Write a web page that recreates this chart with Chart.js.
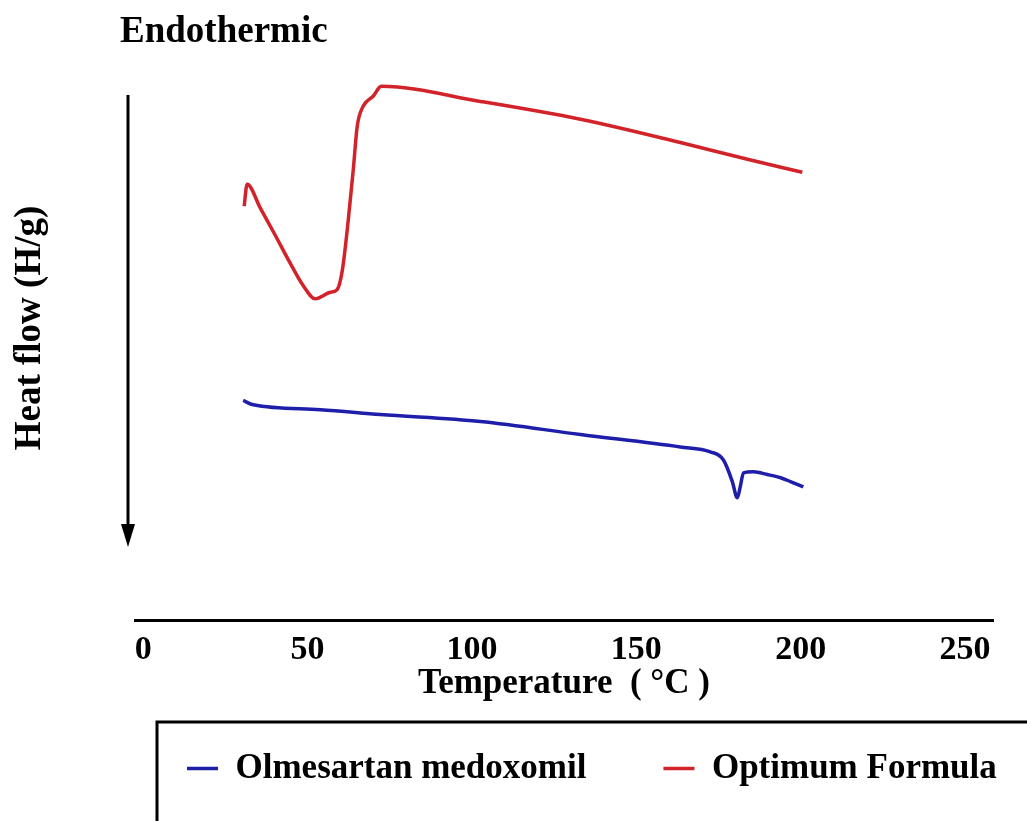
<!DOCTYPE html>
<html>
<head>
<meta charset="utf-8">
<script src="https://cdn.jsdelivr.net/npm/chart.js@4.4.1/dist/chart.umd.min.js"></script>
<style>
  body { margin: 0; background: #fff; }
  #wrap { width: 1027px; height: 821px; }
</style>
</head>
<body>
<div id="wrap"><canvas id="dsc"></canvas></div>
<script>
// DSC thermograms (heat flow in arbitrary units, endothermic = down)
const tempTicks = [0, 50, 100, 150, 200, 250];

const olmTemp = [30.4, 33.5, 53.9, 72.1, 102.6, 133.0, 163.4, 172.5, 176.5, 179.2, 180.7, 181.6, 182.6, 185.6, 189.9, 193.9, 196.9, 200.8];
const olmHeat = [4.06, 3.98, 3.89, 3.80, 3.67, 3.43, 3.20, 3.11, 2.96, 2.56, 2.26, 2.46, 2.72, 2.74, 2.69, 2.63, 2.56, 2.46];

const optTemp = [30.7, 31.6, 35.6, 40.2, 44.7, 48.7, 52.3, 56.9, 59.0, 60.6, 62.4, 63.9, 65.1, 66.9, 70.0, 72.4, 102.6, 133.0, 163.4, 183.8, 200.5];
const optHeat = [7.65, 8.06, 7.62, 7.11, 6.60, 6.18, 5.94, 6.06, 6.11, 6.48, 7.41, 8.33, 9.13, 9.50, 9.69, 9.87, 9.59, 9.26, 8.83, 8.52, 8.28];

const serif = '"Liberation Serif", "Times New Roman", serif';

const toXY = (xs, ys) => xs.map((x, i) => ({ x: x, y: ys[i] }));

// extra bits: "Endothermic", the arrow, the legend frame
const decor = {
  id: 'decor',
  afterLayout(chart) {
    // move the legend into place; wide right edge keeps both entries on one row
    const lg = chart.legend;
    lg.left = 110;
    lg.right = 1300;
    lg.top = 674;
  },
  afterDraw(chart) {
    const ctx = chart.ctx;
    ctx.save();
    ctx.fillStyle = '#000';
    ctx.strokeStyle = '#000';
    ctx.font = 'bold 37px ' + serif;
    ctx.textBaseline = 'middle';
    ctx.textAlign = 'left';
    ctx.fillText('Endothermic', 120, 32);

    ctx.lineWidth = 3;
    ctx.beginPath();
    ctx.moveTo(128, 95);
    ctx.lineTo(128, 528);
    ctx.stroke();
    ctx.beginPath();
    ctx.moveTo(121, 524);
    ctx.lineTo(135, 524);
    ctx.lineTo(128, 547);
    ctx.closePath();
    ctx.fill();

    const lg = chart.legend;
    ctx.lineWidth = 3;
    ctx.strokeRect(lg.left + 47, lg.top + 48, 950, 200);
    ctx.restore();
  }
};

new Chart(document.getElementById('dsc'), {
  type: 'line',
  data: {
    datasets: [
      {
        label: 'Olmesartan medoxomil',
        data: toXY(olmTemp, olmHeat),
        borderColor: '#1e1eaa',
        backgroundColor: '#1e1eaa',
        borderWidth: 3.5,
        pointRadius: 0,
        cubicInterpolationMode: 'monotone'
      },
      {
        label: 'Optimum Formula',
        data: toXY(optTemp, optHeat),
        borderColor: '#d2232a',
        backgroundColor: '#d2232a',
        borderWidth: 3.5,
        pointRadius: 0,
        cubicInterpolationMode: 'monotone'
      }
    ]
  },
  options: {
    responsive: true,
    maintainAspectRatio: false,
    animation: false,
    devicePixelRatio: 1,
    layout: { padding: { top: 36, right: 34, left: 0, bottom: 0 } },
    scales: {
      x: {
        type: 'linear',
        min: -2.5,
        max: 258.5,
        afterBuildTicks: (scale) => { scale.ticks = tempTicks.map(v => ({ value: v })); },
        afterFit: (scale) => { scale.height = 85; },
        grid: { display: false },
        border: { display: true, color: '#000', width: 3 },
        ticks: { color: '#000', padding: 2, font: { family: serif, size: 34, weight: 'bold' } },
        title: {
          display: true,
          text: 'Temperature  ( °C )',
          color: '#000',
          padding: { top: 0, bottom: 0 },
          font: { family: serif, size: 35, weight: 'bold' }
        }
      },
      y: {
        min: 0,
        max: 10.8,
        afterFit: (scale) => { scale.width = 135; },
        grid: { display: false },
        border: { display: false },
        ticks: { display: false },
        title: {
          display: true,
          text: 'Heat flow (H/g)',
          color: '#000',
          padding: { top: 8, bottom: 0 },
          font: { family: serif, size: 37, weight: 'bold' }
        }
      }
    },
    plugins: {
      tooltip: { enabled: false },
      legend: {
        position: 'bottom',
        align: 'start',
        maxHeight: 116,
        labels: {
          color: '#000',
          usePointStyle: true,
          pointStyle: 'line',
          pointStyleWidth: 31,
          padding: 77,
          font: { family: serif, size: 35, weight: 'bold' }
        }
      }
    }
  },
  plugins: [decor]
});
</script>
</body>
</html>
